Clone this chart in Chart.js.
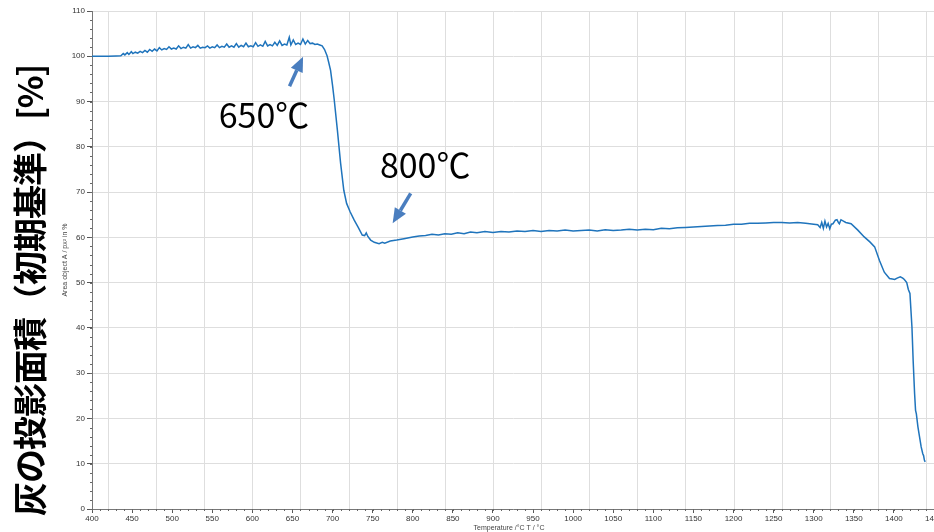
<!DOCTYPE html>
<html>
<head>
<meta charset="utf-8">
<script src="https://cdn.jsdelivr.net/npm/chart.js@4.4.1/dist/chart.umd.min.js"></script>
<style>
  html, body { margin: 0; padding: 0; background: #fff; overflow: hidden; }
  #wrap { width: 934px; height: 532px; position: relative; }
</style>
</head>
<body>
<div id="wrap"><canvas id="c" width="934" height="532"></canvas></div>
<script>
// Ash projected area vs. temperature (heating microscope run)
const temperatures = [
  400, 410, 420, 430, 436, 439, 441, 444, 446, 449, 451, 454, 457, 460, 463, 466, 469, 472, 475, 478,
  481, 484, 487, 490, 493, 496, 499, 502, 505, 508, 511, 514, 517, 520, 523, 526, 529, 532, 535, 538,
  541, 544, 547, 550, 553, 556, 559, 562, 565, 568, 571, 574, 577, 580, 583, 586, 589, 592, 595, 598,
  601, 604, 607, 610, 613, 616, 619, 622, 625, 628, 631, 634, 637, 640, 643, 646, 648, 651, 654, 657,
  660, 663, 666, 669, 672, 675, 678, 681, 684, 687, 690, 693, 695, 697.5, 700, 702, 706, 710, 714, 717.5,
  722, 727, 732, 737, 740, 742, 744, 747.5, 752, 758, 762, 765, 772, 780, 789,
  800, 808, 816, 824, 832, 840, 848, 856, 864, 872, 880, 890, 900, 910, 920, 930, 940, 950, 960, 970,
  980, 990, 1000, 1010, 1020, 1030, 1040, 1050, 1060, 1070, 1080, 1090, 1100, 1110, 1120, 1130, 1140, 1150, 1160, 1170,
  1180, 1190, 1200, 1210, 1220, 1230, 1240, 1250, 1260, 1270, 1280, 1290, 1300, 1305, 1308, 1310, 1312, 1314, 1316, 1318,
  1320, 1322, 1324, 1327, 1329, 1331, 1332, 1334, 1337, 1340, 1346.6, 1355, 1363, 1370, 1376, 1382, 1388, 1394.5, 1398, 1401,
  1404, 1408, 1411, 1413, 1416, 1418, 1420, 1422.5, 1424, 1425.8, 1427, 1428, 1430, 1434, 1436, 1437, 1438, 1439
];
const areaPercent = [
  100.0, 100.0, 100.0, 100.05, 100.1, 100.6, 100.3, 100.8, 100.4, 101.0, 100.6, 100.9, 100.7, 101.1, 100.8, 101.3, 100.9, 101.5, 101.1, 101.6,
  101.2, 101.9, 101.4, 101.7, 101.5, 102.1, 101.6, 101.8, 101.6, 102.3, 101.7, 102.0, 101.8, 102.6, 101.8, 102.1, 101.9, 102.4, 101.8, 102.0,
  101.9, 102.3, 101.8, 102.1, 101.9, 102.5, 101.9, 102.2, 102.0, 102.7, 102.0, 102.3, 102.0, 102.8, 102.0, 102.4, 102.1, 102.9, 102.1, 102.3,
  102.1, 103.0, 102.2, 102.5, 102.2, 103.3, 102.3, 102.6, 102.3, 103.1, 102.4, 103.4, 102.4, 102.7, 102.5, 104.2, 102.5, 103.6, 102.6, 102.9,
  102.6, 103.8, 102.7, 103.5, 102.8, 102.9, 102.6, 102.7, 102.5, 102.3, 101.5, 100.2, 98.8, 96.9, 93.5, 90.5, 83.7, 76.4, 70.4, 67.5,
  65.6, 63.8, 62.2, 60.5, 60.4, 61.0, 60.2, 59.4, 58.9, 58.6, 58.9, 58.7, 59.2, 59.4, 59.7,
  60.1, 60.3, 60.4, 60.7, 60.5, 60.8, 60.7, 61.0, 60.8, 61.2, 61.0, 61.3, 61.1, 61.3, 61.2, 61.4, 61.3, 61.5, 61.3, 61.5,
  61.4, 61.6, 61.4, 61.5, 61.6, 61.4, 61.7, 61.5, 61.6, 61.8, 61.6, 61.8, 61.7, 62.0, 61.9, 62.1, 62.2, 62.3, 62.4, 62.5,
  62.6, 62.7, 62.9, 62.9, 63.1, 63.1, 63.2, 63.3, 63.3, 63.2, 63.3, 63.1, 62.9, 62.8, 62.2, 63.3, 62.0, 63.6, 62.3, 63.1,
  61.9, 62.9, 63.0, 63.8, 63.9, 63.2, 63.0, 63.9, 63.6, 63.3, 63.0, 61.6, 60.1, 59.0, 57.9, 54.9, 52.3, 50.9, 50.8, 50.7,
  51.0, 51.3, 51.0, 50.7, 50.0, 48.5, 47.6, 40.2, 32.8, 25.5, 21.8, 21.0, 18.1, 13.7, 12.2, 11.8, 10.8, 10.4
];

// Axis tick labels and background grid positions
const xTickValues = [400, 450, 500, 550, 600, 650, 700, 750, 800, 850, 900, 950, 1000, 1050, 1100, 1150, 1200, 1250, 1300, 1350, 1400, 1450];
const yTickValues = [0, 10, 20, 30, 40, 50, 60, 70, 80, 90, 100, 110];
const xMinorTicks = [];
for (let t = 400; t <= 1450; t += 10) xMinorTicks.push(t);
const yMinorTicks = [];
for (let v = 0; v <= 110; v += 2) yMinorTicks.push(v);
const xGridValues = [420, 480, 540, 600, 660, 720, 780, 840, 900, 960, 1020, 1080, 1140, 1200, 1260, 1320, 1380, 1440];

// Text labels
const yTitleJa = '灰の投影面積（初期基準）[%]';
const yTitleEn = 'Area object A / px² in %';
const xTitle = 'Temperature /°C T / °C';

// Arrow call-outs, placed in data units
const callouts = [
  { text: '650℃', textAt: [558, 84.2], tail: [646.3, 93.4], tip: [663.2, 99.9] },
  { text: '800℃', textAt: [759, 73.2], tail: [797.4, 69.7], tip: [774.9, 63.1] }
];

const points = temperatures.map((t, i) => ({ x: t, y: areaPercent[i] }));

const gridAndTicks = {
  id: 'gridAndTicks',
  beforeDatasetsDraw(chart) {
    const { ctx, chartArea, scales } = chart;
    ctx.save();
    ctx.strokeStyle = '#dedede';
    ctx.lineWidth = 1;
    xGridValues.forEach(v => {
      const px = Math.round(scales.x.getPixelForValue(v)) + 0.5;
      ctx.beginPath();
      ctx.moveTo(px, chartArea.top);
      ctx.lineTo(px, chartArea.bottom);
      ctx.stroke();
    });
    ctx.restore();
  },
  afterDraw(chart) {
    const { ctx, chartArea, scales } = chart;
    ctx.save();
    ctx.strokeStyle = '#666';
    ctx.lineWidth = 1;
    xMinorTicks.forEach(v => {
      const px = Math.round(scales.x.getPixelForValue(v)) + 0.5;
      ctx.beginPath();
      ctx.moveTo(px, chartArea.bottom);
      ctx.lineTo(px, chartArea.bottom + 2);
      ctx.stroke();
    });
    yMinorTicks.forEach(v => {
      const py = Math.round(scales.y.getPixelForValue(v)) + 0.5;
      ctx.beginPath();
      ctx.moveTo(chartArea.left - 2, py);
      ctx.lineTo(chartArea.left, py);
      ctx.stroke();
    });
    ctx.restore();
  }
};

const textsAndArrows = {
  id: 'textsAndArrows',
  afterDraw(chart) {
    const { ctx, chartArea, scales } = chart;
    ctx.save();

    // large Japanese axis title
    ctx.save();
    ctx.translate(30, 516);
    ctx.rotate(-Math.PI / 2);
    ctx.fillStyle = '#000';
    ctx.font = 'bold 34px "Noto Sans CJK JP"';
    ctx.letterSpacing = '-1px';
    ctx.textAlign = 'left';
    ctx.textBaseline = 'middle';
    ctx.fillText(yTitleJa, 0, 0);
    ctx.letterSpacing = '0px';
    ctx.restore();

    // small instrument axis title
    ctx.save();
    ctx.translate(65, (chartArea.top + chartArea.bottom) / 2);
    ctx.rotate(-Math.PI / 2);
    ctx.fillStyle = '#444';
    ctx.font = '7px "Liberation Sans"';
    ctx.textAlign = 'center';
    ctx.textBaseline = 'middle';
    ctx.fillText(yTitleEn, 0, 0);
    ctx.restore();

    // x title
    ctx.fillStyle = '#444';
    ctx.font = '7px "Liberation Sans"';
    ctx.textAlign = 'center';
    ctx.textBaseline = 'middle';
    ctx.fillText(xTitle, 509, 528);

    // call-outs
    callouts.forEach(c => {
      const tx = scales.x.getPixelForValue(c.textAt[0]);
      const ty = scales.y.getPixelForValue(c.textAt[1]);
      ctx.fillStyle = '#000';
      ctx.font = '34px "Noto Sans CJK JP"';
      ctx.textAlign = 'left';
      ctx.textBaseline = 'alphabetic';
      ctx.fillText(c.text, tx, ty);

      const x0 = scales.x.getPixelForValue(c.tail[0]);
      const y0 = scales.y.getPixelForValue(c.tail[1]);
      const x1 = scales.x.getPixelForValue(c.tip[0]);
      const y1 = scales.y.getPixelForValue(c.tip[1]);
      const ang = Math.atan2(y1 - y0, x1 - x0);
      const headLen = 15, headHalf = 6.5;
      const bx = x1 - headLen * Math.cos(ang);
      const by = y1 - headLen * Math.sin(ang);
      ctx.strokeStyle = '#4a7ebf';
      ctx.fillStyle = '#4a7ebf';
      ctx.lineWidth = 3.5;
      ctx.lineCap = 'butt';
      ctx.beginPath();
      ctx.moveTo(x0, y0);
      ctx.lineTo(bx, by);
      ctx.stroke();
      ctx.beginPath();
      ctx.moveTo(x1, y1);
      ctx.lineTo(bx + headHalf * Math.sin(ang), by - headHalf * Math.cos(ang));
      ctx.lineTo(bx - headHalf * Math.sin(ang), by + headHalf * Math.cos(ang));
      ctx.closePath();
      ctx.fill();
    });

    ctx.restore();
  }
};

new Chart(document.getElementById('c'), {
  type: 'line',
  data: {
    datasets: [{
      data: points,
      borderColor: '#1f74bc',
      borderWidth: 1.5,
      pointRadius: 0,
      tension: 0,
      fill: false
    }]
  },
  options: {
    responsive: false,
    animation: false,
    devicePixelRatio: 1,
    layout: { padding: { left: 0, right: 0, top: 11, bottom: 0 } },
    plugins: { legend: { display: false }, tooltip: { enabled: false } },
    scales: {
      x: {
        type: 'linear',
        min: 400,
        max: 1450,
        afterBuildTicks: s => { s.ticks = xTickValues.map(v => ({ value: v })); },
        ticks: {
          font: { family: 'Liberation Sans', size: 8 },
          color: '#333',
          padding: 1,
          maxRotation: 0,
          autoSkip: false,
          callback: v => String(v)
        },
        grid: { drawOnChartArea: false, tickLength: 4, tickColor: '#555' },
        border: { color: '#777' },
        afterFit: s => { s.height = 23; s.paddingLeft = 0; s.paddingRight = 0; }
      },
      y: {
        min: 0,
        max: 110,
        afterBuildTicks: s => { s.ticks = yTickValues.map(v => ({ value: v })); },
        ticks: {
          font: { family: 'Liberation Sans', size: 8 },
          color: '#333',
          padding: 2,
          callback: v => String(v)
        },
        grid: { color: '#dedede', tickLength: 5, tickColor: '#555' },
        border: { color: '#777' },
        afterFit: s => { s.width = 92; }
      }
    }
  },
  plugins: [gridAndTicks, textsAndArrows]
});
</script>
</body>
</html>
